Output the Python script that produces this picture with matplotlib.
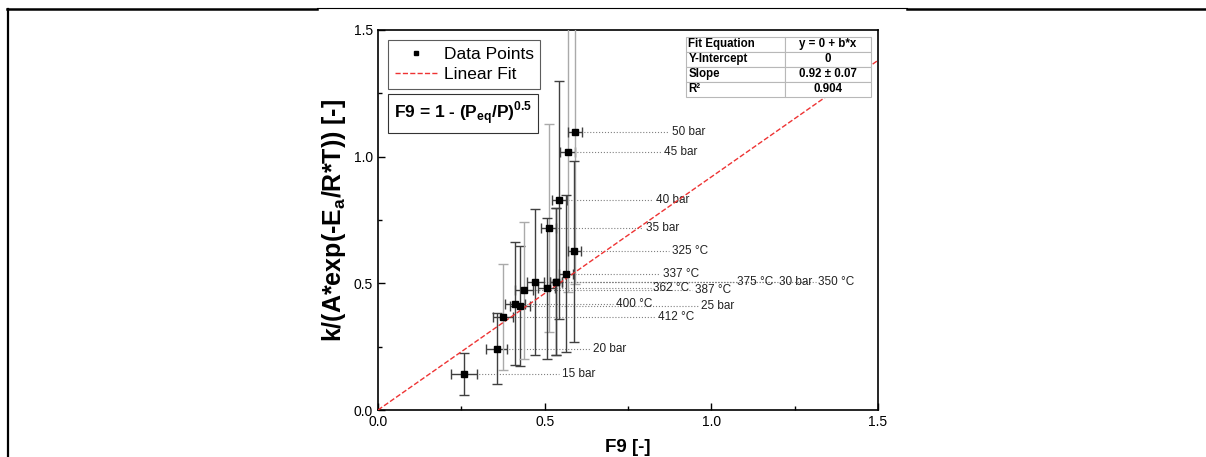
import numpy as np
import matplotlib.pyplot as plt
from matplotlib.lines import Line2D

plt.rcParams['font.family'] = ['Liberation Sans', 'DejaVu Sans']
plt.rcParams['mathtext.fontset'] = 'custom'
plt.rcParams['mathtext.rm'] = 'Liberation Sans'
plt.rcParams['mathtext.bf'] = 'Liberation Sans:bold'

# data
labels = ['15 bar', '20 bar', '25 bar', '30 bar', '35 bar', '40 bar', '45 bar', '50 bar',
          '325 °C', '337 °C', '350 °C', '362 °C', '375 °C', '387 °C', '400 °C', '412 °C']
f9 = [0.259, 0.356, 0.426, 0.535, 0.512, 0.544, 0.569, 0.592,
      0.589, 0.564, 0.535, 0.506, 0.472, 0.439, 0.411, 0.375]
k_norm = [0.143, 0.241, 0.411, 0.507, 0.718, 0.829, 1.017, 1.096,
          0.626, 0.538, 0.507, 0.480, 0.504, 0.472, 0.420, 0.368]
f9_err = [0.039, 0.032, 0.030, 0.018, 0.022, 0.022, 0.022, 0.021,
          0.020, 0.021, 0.018, 0.025, 0.025, 0.027, 0.030, 0.031]
k_err = [0.083, 0.140, 0.237, 0.290, 0.410, 0.470, 0.550, 0.600,
         0.356, 0.310, 0.290, 0.277, 0.288, 0.270, 0.242, 0.210]

slope = 0.92
fit_rows = [['Fit Equation', 'y = 0 + b*x'],
            ['Y-Intercept', '0'],
            ['Slope', '0.92 ± 0.07'],
            ['R²', '0.904']]

# where each annotation text starts (x, data units) and bar colour
label_x = [0.551, 0.646, 0.968, 1.203, 0.803, 0.834, 0.859, 0.881,
           0.881, 0.855, 1.321, 0.826, 1.076, 0.951, 0.714, 0.841]
light = ['35 bar', '45 bar', '50 bar', '387 °C', '412 °C']


fig = plt.figure(figsize=(12.06, 4.57), dpi=100)
ax = fig.add_axes([0.3134, 0.1028, 0.4146, 0.8316])

# dotted guide lines + labels
for x, y, lx, lab in zip(f9, k_norm, label_x, labels):
    ax.plot([x, lx - 0.008], [y, y], ls=':', c='#808080', lw=0.8, zorder=1)
    ax.text(lx, y, lab, fontsize=8.5, va='center', ha='left', color='#222222', zorder=2)

# error bars
for x, y, xe, ye, lab in zip(f9, k_norm, f9_err, k_err, labels):
    col = '#aaaaaa' if lab in light else '#404040'
    ax.errorbar(x, y, yerr=ye, fmt='none', ecolor=col, elinewidth=1, capsize=3.5, zorder=3)
    ax.errorbar(x, y, xerr=xe, fmt='none', ecolor='#404040', elinewidth=1, capsize=3.5, zorder=3)

ax.plot(f9, k_norm, 's', c='black', ms=4.3, zorder=5)

xx = np.array([0, 1.5])
ax.plot(xx, slope * xx, '--', c='#ee3333', lw=1, zorder=4)

ax.set_xlim(0, 1.5)
ax.set_ylim(0, 1.5)
ax.set_xticks([0, 0.5, 1.0, 1.5])
ax.set_yticks([0, 0.5, 1.0, 1.5])
ax.set_xticks([0.25, 0.75, 1.25], minor=True)
ax.set_yticks([0.25, 0.75, 1.25], minor=True)
ax.tick_params(which='both', direction='in', labelsize=10, width=1)
ax.tick_params(which='major', length=5)
ax.tick_params(which='minor', length=3)
for s in ax.spines.values():
    s.set_linewidth(1.2)

ax.set_xlabel('F9 [-]', fontsize=13.5, fontweight='bold', labelpad=7)
ax.set_ylabel(r'k/(A*exp(-E$_\mathbf{a}$/R*T)) [-]', fontsize=18, fontweight='bold', labelpad=4)

handles = [Line2D([], [], ls='none', marker='s', c='black', ms=3.5),
           Line2D([], [], ls='--', c='#ee3333', lw=1)]
leg = ax.legend(handles, ['Data Points', 'Linear Fit'], loc='upper left',
                bbox_to_anchor=(0.02, 0.974), fontsize=12.5, fancybox=False,
                edgecolor='#333333', handlelength=2.4, borderpad=0.4,
                labelspacing=0.3, handletextpad=0.4, borderaxespad=0)
leg.get_frame().set_linewidth(0.8)

ax.text(0.032, 0.78, r'F9 = 1 - (P$_\mathbf{eq}$/P)$^\mathbf{0.5}$', transform=ax.transAxes,
        fontsize=12.5, fontweight='bold', va='center', ha='left',
        bbox=dict(boxstyle='square,pad=0.35', fc='white', ec='#333333', lw=0.8))

tab = ax.table(cellText=fit_rows, bbox=[0.617, 0.824, 0.370, 0.158], zorder=6)
tab.auto_set_font_size(False)
for (r, c), cell in tab.get_celld().items():
    cell.set_edgecolor('#b8b8b8')
    cell.set_linewidth(0.8)
    cell.get_text().set_fontsize(8.3)
    cell.get_text().set_fontweight('bold')
    cell.get_text().set_ha('left' if c == 0 else 'center')
    cell.PAD = 0.02
    cell.set_width(0.53 * 0.37 if c == 0 else 0.47 * 0.37)

# surrounding frame lines from the page
fig.add_artist(Line2D([0.0066, 0.0066], [0.0, 0.981], c='black', lw=1.6))
fig.add_artist(Line2D([0.0058, 0.263], [0.980, 0.980], c='black', lw=1.8))
fig.add_artist(Line2D([0.263, 0.752], [0.982, 0.982], c='black', lw=0.8))
fig.add_artist(Line2D([0.752, 1.0], [0.980, 0.980], c='black', lw=1.8))

fig.savefig('out.png', dpi=100)
